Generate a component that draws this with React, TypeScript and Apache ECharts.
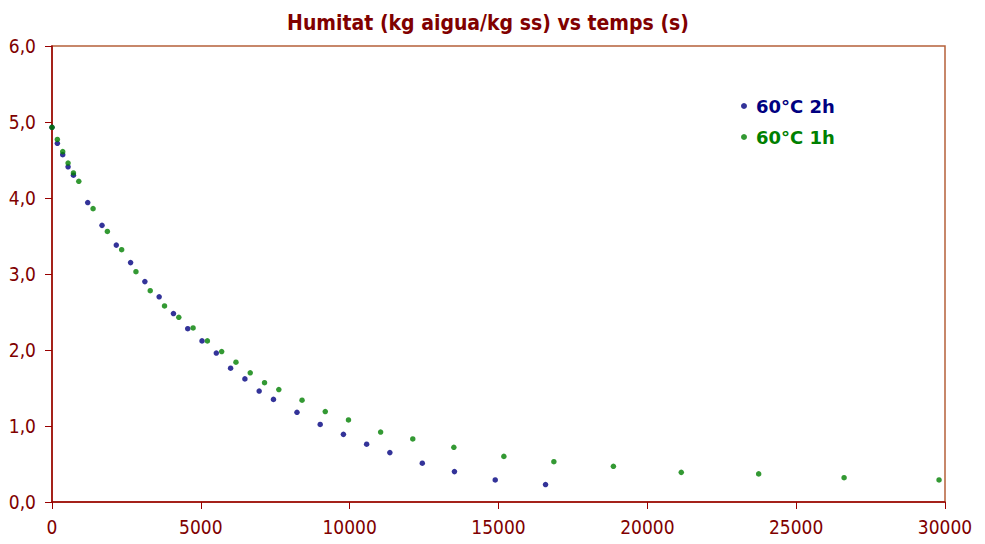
import React, { useEffect, useRef } from "react";
import * as echarts from "echarts";

// Drying curves: moisture content (kg water / kg dry solid) against time (s)
const time2h = [0, 180, 360, 540, 720, 1200, 1680, 2160, 2640, 3120, 3600, 4080, 4560, 5040, 5520, 6000, 6480, 6960, 7440, 8230, 9010, 9790, 10570, 11350, 12440, 13520, 14890, 16580];
const hum2h = [4.93, 4.72, 4.57, 4.41, 4.30, 3.94, 3.64, 3.38, 3.15, 2.90, 2.70, 2.48, 2.28, 2.12, 1.96, 1.76, 1.62, 1.46, 1.35, 1.18, 1.02, 0.89, 0.76, 0.65, 0.51, 0.40, 0.29, 0.23];

const time1h = [0, 180, 360, 540, 720, 900, 1380, 1860, 2340, 2820, 3300, 3780, 4260, 4740, 5220, 5700, 6180, 6660, 7140, 7620, 8400, 9180, 9960, 11040, 12120, 13500, 15180, 16860, 18860, 21140, 23740, 26610, 29800];
const hum1h = [4.93, 4.77, 4.61, 4.46, 4.33, 4.22, 3.86, 3.56, 3.32, 3.03, 2.78, 2.58, 2.43, 2.29, 2.12, 1.98, 1.84, 1.70, 1.57, 1.48, 1.34, 1.19, 1.08, 0.92, 0.83, 0.72, 0.60, 0.53, 0.47, 0.39, 0.37, 0.32, 0.29];

const seriesNames = ["60°C 2h", "60°C 1h"];
const seriesColors = ["#000080", "#008000"];
const titleText = "Humitat (kg aigua/kg ss) vs temps (s)";

const axisRed = "#990000";
const font = "Tahoma, 'DejaVu Sans Condensed', 'DejaVu Sans', sans-serif";

export default function App() {
  const ref = useRef<HTMLDivElement>(null);

  useEffect(() => {
    if (!ref.current) return;
    const chart = echarts.init(ref.current, undefined, { renderer: "svg" });
    const pairs = (xs: number[], ys: number[]) => xs.map((x, i) => [x, ys[i]]);
    chart.setOption({
      animation: false,
      backgroundColor: "#ffffff",
      title: {
        text: titleText,
        left: 483,
        textAlign: "center",
        top: 7,
        textStyle: {
          color: "#800000",
          fontSize: 21,
          fontWeight: "bold",
          fontFamily: "'DejaVu Sans Condensed', 'DejaVu Sans', sans-serif",
        },
      },
      legend: {
        orient: "vertical",
        left: 736,
        top: 92,
        itemWidth: 6,
        itemHeight: 6,
        itemGap: 13,
        icon: "circle",
        data: seriesNames.map((n, i) => ({
          name: n,
          textStyle: { color: seriesColors[i] },
        })),
        textStyle: {
          fontSize: 18,
          fontWeight: "bold",
          fontFamily: "'DejaVu Sans', sans-serif",
          padding: [0, 0, 0, 4],
        },
      },
      grid: {
        left: 52,
        right: 40,
        top: 46,
        bottom: 42,
        show: true,
        borderColor: "#b5603a",
        borderWidth: 1.5,
        containLabel: false,
      },
      xAxis: {
        type: "value",
        min: 0,
        max: 30000,
        interval: 5000,
        splitLine: { show: false },
        axisLine: { show: true, onZero: false, lineStyle: { color: axisRed, width: 1.5 } },
        axisTick: { show: true, inside: false, length: 7, lineStyle: { color: axisRed } },
        axisLabel: {
          color: "#800000",
          fontSize: 19,
          fontFamily: font,
          margin: 15,
          formatter: (v: number) => String(v),
        },
      },
      yAxis: {
        type: "value",
        min: 0,
        max: 6,
        interval: 1,
        splitLine: { show: false },
        axisLine: { show: true, onZero: false, lineStyle: { color: axisRed, width: 1.5 } },
        axisTick: { show: true, inside: false, length: 7, lineStyle: { color: axisRed } },
        axisLabel: {
          color: "#800000",
          fontSize: 19,
          fontFamily: font,
          margin: 16,
          formatter: (v: number) => v.toFixed(1).replace(".", ","),
        },
      },
      series: [
        {
          name: seriesNames[0],
          type: "scatter",
          symbol: "circle",
          symbolSize: 5.5,
          itemStyle: { color: seriesColors[0] },
          data: pairs(time2h, hum2h),
          z: 2,
        },
        {
          name: seriesNames[1],
          type: "scatter",
          symbol: "circle",
          symbolSize: 5.5,
          itemStyle: { color: seriesColors[1] },
          data: pairs(time1h, hum1h),
          z: 3,
        },
      ],
    });
    return () => chart.dispose();
  }, []);

  return <div ref={ref} style={{ width: 985, height: 544, position: "absolute", left: 0, top: 0 }} />;
}
